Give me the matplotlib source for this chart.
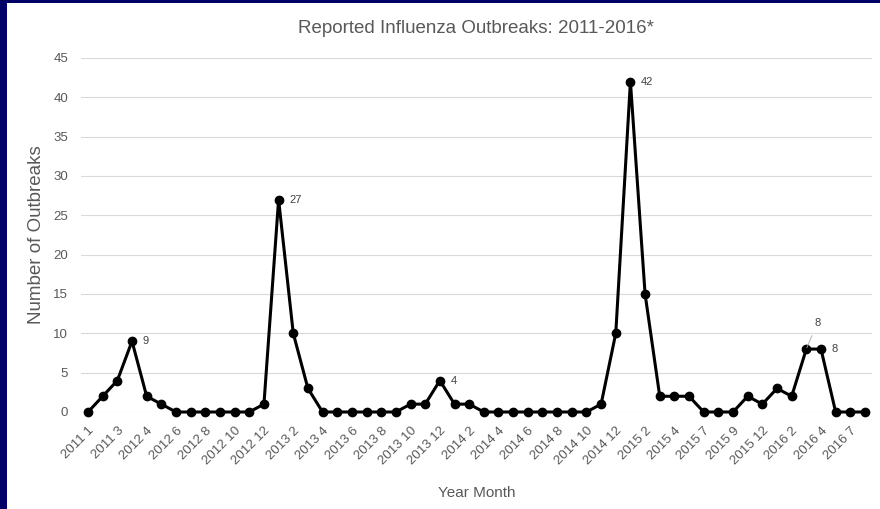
import matplotlib
matplotlib.use("Agg")
import matplotlib.pyplot as plt

plt.rcParams['font.family'] = ['Liberation Sans', 'DejaVu Sans']

#
# data: monthly reported influenza outbreaks
#
months = [
  "2011 1", "2011 2", "2011 3", "2011 4",
  "2012 4", "2012 5", "2012 6", "2012 7", "2012 8", "2012 9", "2012 10", "2012 11", "2012 12",
  "2013 1", "2013 2", "2013 3", "2013 4", "2013 5", "2013 6", "2013 7", "2013 8", "2013 9",
  "2013 10", "2013 11", "2013 12",
  "2014 1", "2014 2", "2014 3", "2014 4", "2014 5", "2014 6", "2014 7", "2014 8", "2014 9",
  "2014 10", "2014 11", "2014 12",
  "2015 1", "2015 2", "2015 3", "2015 4", "2015 6", "2015 7", "2015 8", "2015 9", "2015 11",
  "2015 12",
  "2016 1", "2016 2", "2016 3", "2016 4", "2016 6", "2016 7", "2016 8",
]
outbreaks = [
  0, 2, 4, 9,
  2, 1, 0, 0, 0, 0, 0, 0, 1,
  27, 10, 3, 0, 0, 0, 0, 0, 0, 1, 1, 4,
  1, 1, 0, 0, 0, 0, 0, 0, 0, 0, 1, 10,
  42, 15, 2, 2, 2, 0, 0, 0, 2, 1,
  3, 2, 8, 8, 0, 0, 0,
]
# points that carry a value label: index -> (dx, dy) offset in points
labelled = {3: (7.5, 0), 13: (7.5, 0), 24: (7.5, 0), 37: (7.5, 0), 50: (7.5, 0)}
leader_idx = 49

fig = plt.figure(figsize=(8.8, 5.09), dpi=100)
fig.patch.set_facecolor('#000066')
# white panel inside the navy frame
fig.add_artist(plt.Rectangle((7 / 880, 0), 1, 1 - 3 / 509, transform=fig.transFigure,
                             facecolor='white', edgecolor='none', zorder=0))

ax = fig.add_axes([80.7 / 880, 1 - 412 / 509, (872.3 - 80.7) / 880, (412 - 58) / 509])
ax.set_facecolor('none')

x = list(range(len(months)))
ax.plot(x, outbreaks, color='black', lw=2.2, marker='o', markersize=6, zorder=3,
        clip_on=False)

for i, (dx, dy) in labelled.items():
  ax.annotate(str(outbreaks[i]), (x[i], outbreaks[i]), xytext=(dx, dy),
              textcoords='offset points', ha='left', va='center',
              fontsize=8, color='#404040')
ax.annotate(str(outbreaks[leader_idx]), (x[leader_idx], outbreaks[leader_idx]),
            xytext=(8, 19), textcoords='offset points', ha='center', va='center',
            fontsize=8, color='#404040',
            arrowprops=dict(arrowstyle='-', color='#a6a6a6', lw=0.6,
                            shrinkA=4, shrinkB=1))

ax.set_xlim(-0.5, len(months) - 0.5)
ax.set_ylim(0, 45)
ax.set_yticks(range(0, 46, 5))
ax.set_xticks(x[::2])
ax.set_xticklabels(months[::2], rotation=45, ha='right', rotation_mode='anchor')
ax.tick_params(axis='both', length=0, labelsize=9.5, labelcolor='#595959')
ax.tick_params(axis='x', pad=9)
ax.tick_params(axis='y', pad=9)

ax.grid(axis='y', color='#d9d9d9', lw=0.8)
ax.set_axisbelow(True)
for s in ax.spines.values():
  s.set_visible(False)

ax.set_title("Reported Influenza Outbreaks: 2011-2016*", fontsize=13.5,
             color='#595959', pad=18)
ax.set_ylabel("Number of Outbreaks", fontsize=13.5, color='#595959', labelpad=6)
ax.set_xlabel("Year Month", fontsize=11, color='#595959', labelpad=14)

fig.savefig("out.png", dpi=100, facecolor=fig.get_facecolor())
